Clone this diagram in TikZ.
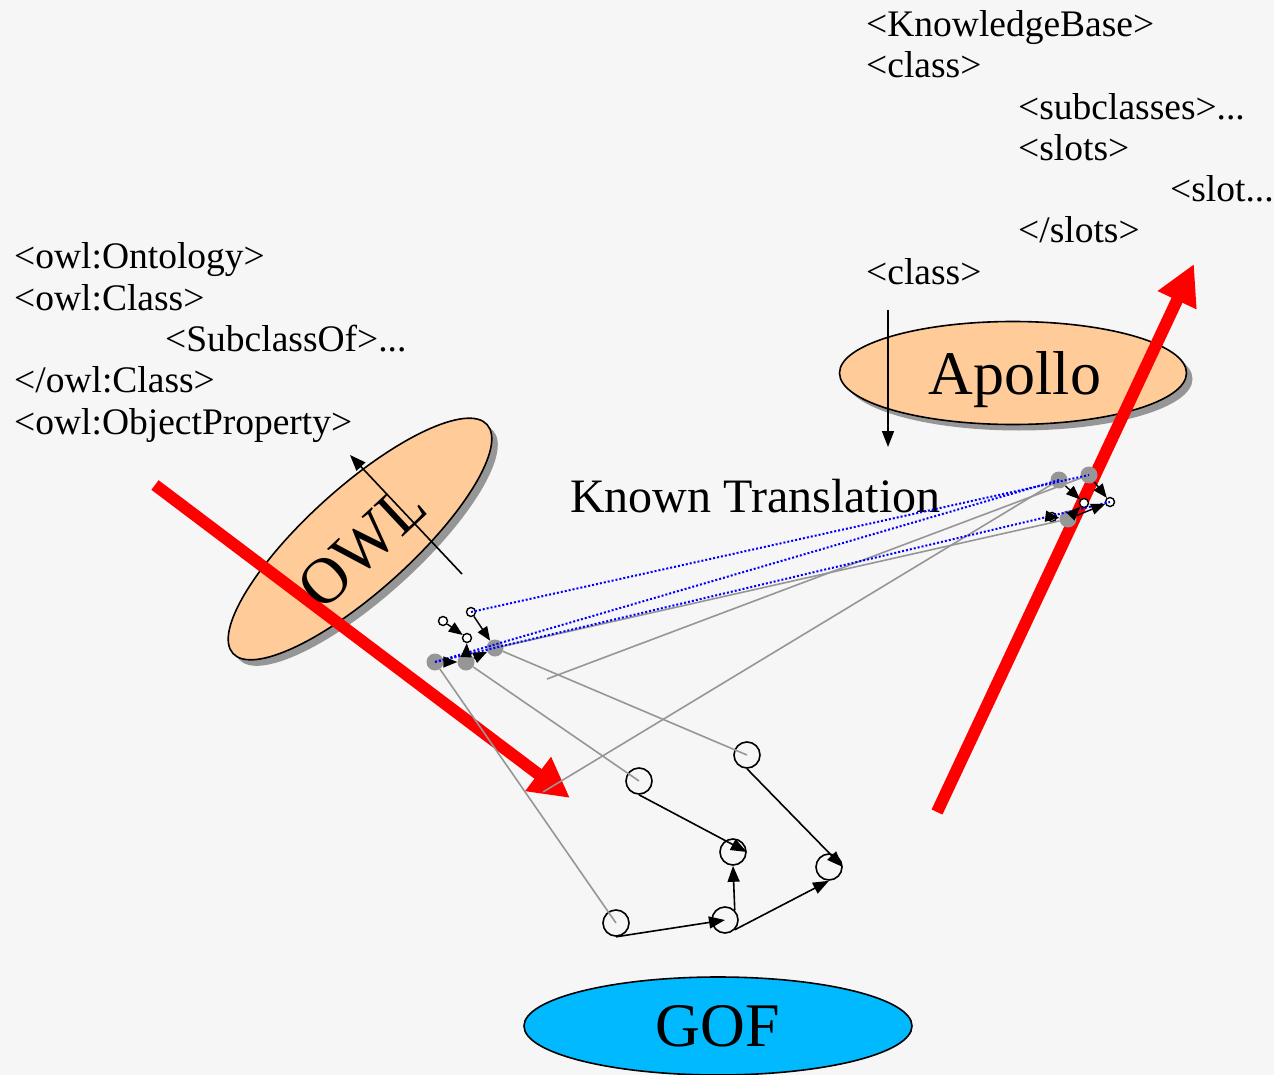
\documentclass[tikz,border=0pt]{standalone}
\usepackage{fontspec}
\setmainfont{Liberation Serif}
\usetikzlibrary{arrows.meta,shapes.geometric}
\definecolor{bg}{RGB}{246,246,246}
\definecolor{peach}{RGB}{255,204,153}
\definecolor{gofblue}{RGB}{0,185,255}
\definecolor{shade}{RGB}{150,150,150}
\definecolor{linkgrey}{RGB}{150,150,150}
\definecolor{hot}{RGB}{255,0,0}
\begin{document}
\begin{tikzpicture}[x=1pt,y=-1pt,
  code/.style={anchor=base west, inner sep=0pt, font=\fontsize{37.5}{41}\selectfont},
  blob/.style={ellipse, draw=black, line width=1.6pt, inner sep=0pt},
  blobshadow/.style={ellipse, fill=shade, inner sep=0pt},
  biglabel/.style={inner sep=0pt, text depth=0pt, font=\fontsize{62}{70}\selectfont},
  bignode/.style={circle, draw=black, line width=1.6pt, minimum size=26pt, inner sep=0pt},
  greydot/.style={circle, fill=linkgrey, minimum size=17pt, inner sep=0pt},
  opendot/.style={circle, draw=black, fill=white, line width=1.4pt, minimum size=9pt, inner sep=0pt},
  bigarrow/.style={line width=1.6pt, -{Triangle[length=16pt,width=12pt]}},
  smallarrow/.style={line width=1.4pt, -{Triangle[length=14pt,width=11pt]}},
  redarrow/.style={draw=hot, line width=12pt, -{Triangle[length=40pt,width=40pt]}},
  greylink/.style={draw=linkgrey, line width=1.6pt},
  bluelink/.style={draw=blue, line width=2pt, dash pattern=on 2pt off 2pt}
]
\useasboundingbox (0,0) rectangle (1274,1075);
\fill[bg] (0,0) rectangle (1274,1075);

% ellipses with their drop shadows
\node[blobshadow, rotate=42, minimum width=342pt, minimum height=104pt] (owlshadow) at (366,545) {};
\node[blob, fill=peach, rotate=42, minimum width=342pt, minimum height=104pt] (owl) at (360,539) {};
\node[blobshadow, minimum width=347pt, minimum height=103pt] (apolloshadow) at (1019,379) {};
\node[blob, fill=peach, minimum width=347pt, minimum height=103pt] (apollo) at (1013,373) {};
\node[blob, fill=gofblue, minimum width=388pt, minimum height=98pt] (gof) at (718,1026) {};

% Protege knowledge base listing
\node[code] (kb1) at (866,37) {<KnowledgeBase>};
\node[code] (kb2) at (866,78) {<class>};
\node[code] (kb3) at (1018,120) {<subclasses>...};
\node[code] (kb4) at (1018,161) {<slots>};
\node[code] (kb5) at (1170,202) {<slot...};
\node[code] (kb6) at (1018,243) {</slots>};
\node[code] (kb7) at (866,284) {<class>};

% OWL listing
\node[code] (ow1) at (14,269) {<owl:Ontology>};
\node[code] (ow2) at (14,310) {<owl:Class>};
\node[code] (ow3) at (165,351) {<SubclassOf>...};
\node[code] (ow4) at (14,392) {</owl:Class>};
\node[code] (ow5) at (14,434) {<owl:ObjectProperty>};

\node[anchor=base west, inner sep=0pt, font=\fontsize{48}{54}\selectfont] (known) at (570,512) {Known Translation};

% vertical arrow through Apollo
\coordinate (ktop) at (888,310);
\coordinate (kbot) at (888,447);
\draw[bigarrow] (ktop) -- (kbot);

% arrow across the OWL ellipse
\coordinate (otail) at (462,574);
\coordinate (ohead) at (350,455);
\draw[bigarrow] (otail) -- (ohead);

% thick red arrows
\coordinate (r1s) at (155,485);
\coordinate (r1e) at (570,798);
\coordinate (r2s) at (937,812);
\coordinate (r2e) at (1194,264);
\draw[redarrow] (r1s) -- (r1e);
\draw[redarrow] (r2s) -- (r2e);

% ellipse labels
\node[biglabel, rotate=43, font=\fontsize{65}{72}\selectfont] (owltext) at (362,546) {OWL};
\node[biglabel] (apollotext) at (1015,373) {Apollo};
\node[biglabel] (goftext) at (718,1026) {GOF};

% small graph on the OWL side
\node[opendot] (aO) at (443,621) {};
\node[opendot] (bO) at (471,612) {};
\node[opendot] (cO) at (467,638) {};
\node[greydot] (eO) at (435,662) {};
\node[greydot] (fO) at (466,662) {};
\node[greydot] (dO) at (495,648) {};

% small graph on the Apollo side
\node[opendot] (cA) at (1084,503) {};
\node[opendot] (dA) at (1110,502) {};
\node[opendot] (eA) at (1052,517) {};
\node[greydot] (aA) at (1059,480) {};
\node[greydot] (bA) at (1089,475) {};
\node[greydot] (fA) at (1068,519) {};

% GOF graph
\node[bignode] (gA) at (639,781) {};
\node[bignode] (gB) at (747,755) {};
\node[bignode] (gC) at (733,852) {};
\node[bignode] (gD) at (829,867) {};
\node[bignode] (gE) at (616,923) {};
\node[bignode] (gF) at (725,920) {};

% grey correspondence lines
\coordinate (free1) at (547,679);
\coordinate (free2) at (543,792);
\draw[greylink] (eO) -- (gE.center);
\draw[greylink] (fO) -- (gA.center);
\draw[greylink] (dO) -- (gB.center);
\draw[greylink] (fA) -- (dO);
\draw[greylink] (bA) -- (free1);
\draw[greylink] (aA) -- (free2);

% blue dotted correspondences
\draw[bluelink] (bO.center) -- (bA.center);
\draw[bluelink] (eO.center) -- (aA.center);
\draw[bluelink] (eO.center) -- (dA.center);

% small graph edges
\draw[smallarrow] (aO) -- (cO);
\draw[smallarrow] (bO) -- (dO);
\draw[smallarrow] (eO) -- (fO);
\draw[smallarrow] (fO) -- (cO);
\draw[smallarrow] (fO) -- (dO);
\draw[smallarrow] (aA) -- (cA);
\draw[smallarrow] (bA) -- (dA);
\draw[smallarrow] (eA) -- (fA);
\draw[smallarrow] (fA) -- (cA);
\draw[smallarrow] (fA) -- (dA);

% GOF graph edges
\draw[bigarrow] (gA.south) -- (gC.east);
\draw[bigarrow] (gB.south) -- (gD.east);
\draw[bigarrow] (gE.south) -- (gF.center);
\draw[bigarrow] (gF.north east) -- (gC.south);
\draw[bigarrow] (gF.south east) -- (gD.south);
\end{tikzpicture}
\end{document}
